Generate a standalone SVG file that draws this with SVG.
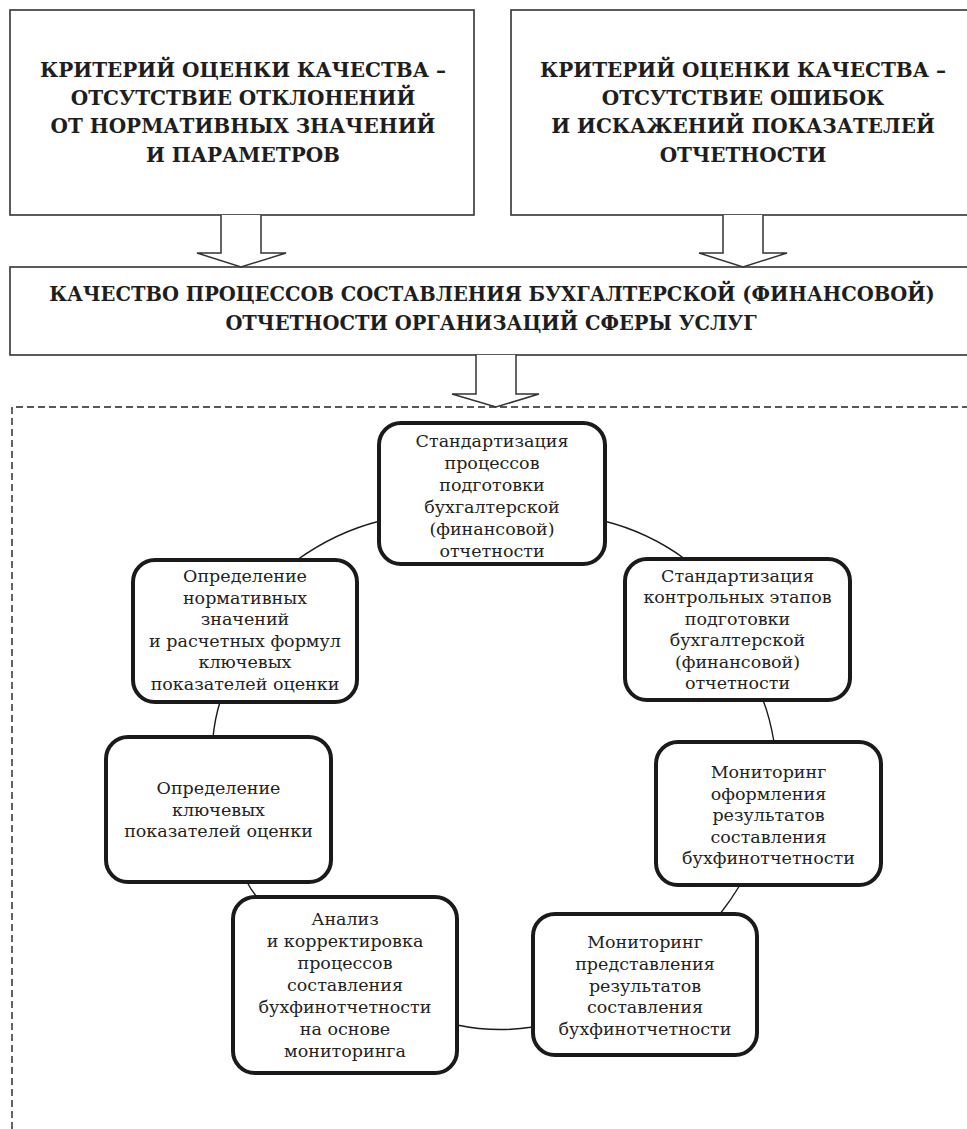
<svg xmlns="http://www.w3.org/2000/svg" width="967" height="1129" viewBox="0 0 967 1129">
<style>
.box{fill:#fff;stroke:#333;stroke-width:1.6}
.arrow{fill:#fff;stroke:#333;stroke-width:1.5;stroke-linejoin:miter}
.hdr{font-family:"DejaVu Serif","Liberation Serif",serif;font-weight:bold;font-size:20px;fill:#1e1e1e;text-anchor:middle}
.hdr2{font-size:19.5px}
.node rect{fill:#fff;stroke:#1a1a1a;stroke-width:4}
.node text{font-family:"DejaVu Serif","Liberation Serif",serif;font-size:17.5px;fill:#222;text-anchor:middle}
.conn{fill:none;stroke:#1a1a1a;stroke-width:1.4}
.dash{fill:none;stroke:#222;stroke-width:1.4;stroke-dasharray:7 4}
</style>
<rect width="967" height="1129" fill="#fff"/>

<g id="criterion-left">
<rect class="box" x="10" y="10" width="464" height="205"/>
<text class="hdr" x="243" y="77">КРИТЕРИЙ ОЦЕНКИ КАЧЕСТВА –</text>
<text class="hdr" x="243" y="105">ОТСУТСТВИЕ ОТКЛОНЕНИЙ</text>
<text class="hdr" x="243" y="133">ОТ НОРМАТИВНЫХ ЗНАЧЕНИЙ</text>
<text class="hdr" x="243" y="162">И ПАРАМЕТРОВ</text>
</g>

<g id="criterion-right">
<rect class="box" x="511" y="10" width="470" height="205"/>
<text class="hdr" x="743" y="77">КРИТЕРИЙ ОЦЕНКИ КАЧЕСТВА –</text>
<text class="hdr" x="743" y="105">ОТСУТСТВИЕ ОШИБОК</text>
<text class="hdr" x="743" y="133">И ИСКАЖЕНИЙ ПОКАЗАТЕЛЕЙ</text>
<text class="hdr" x="743" y="162">ОТЧЕТНОСТИ</text>
</g>

<g id="quality">
<rect class="box" x="10" y="267" width="970" height="88"/>
<text class="hdr hdr2" x="492" y="301">КАЧЕСТВО ПРОЦЕССОВ СОСТАВЛЕНИЯ БУХГАЛТЕРСКОЙ (ФИНАНСОВОЙ)</text>
<text class="hdr hdr2" x="491" y="330">ОТЧЕТНОСТИ ОРГАНИЗАЦИЙ СФЕРЫ УСЛУГ</text>
</g>

<g id="measures-area">
<path class="dash" d="M12,1129 V407 H967"/>
</g>

<g id="connectors">
<path class="arrow" d="M221,215 V253 H197 L241,267 L286,253 H261 V215"/>
<path class="arrow" d="M723,215 V253 H699 L743,267 L787,253 H763 V215"/>
<path class="arrow" d="M476,355 V394 H452 L496,407 L539,394 H516 V355"/>
<path class="conn" d="M380,521 Q336,532 297,560"/>
<path class="conn" d="M604,521 Q648,532 685,559"/>
<path class="conn" d="M220,702 Q215,718 213,737"/>
<path class="conn" d="M763,700 Q770,718 774,742"/>
<path class="conn" d="M247,882 Q251,890 257,897"/>
<path class="conn" d="M740,885 Q731,900 720,914"/>
<path class="conn" d="M457,1025 Q495,1033 533,1027"/>
</g>

<g id="node-standard-processes" class="node">
<rect x="379" y="423" width="226" height="141" rx="22"/>
<text x="492" y="447">Стандартизация</text>
<text x="492" y="469">процессов</text>
<text x="492" y="491">подготовки</text>
<text x="492" y="513">бухгалтерской</text>
<text x="492" y="535">(финансовой)</text>
<text x="492" y="557">отчетности</text>
</g>

<g id="node-normative-values" class="node">
<rect x="133" y="560" width="224" height="142" rx="22"/>
<text x="245" y="582">Определение</text>
<text x="245" y="603.6">нормативных</text>
<text x="245" y="625.2">значений</text>
<text x="245" y="646.8">и расчетных формул</text>
<text x="245" y="668.4">ключевых</text>
<text x="245" y="690">показателей оценки</text>
</g>

<g id="node-standard-control" class="node">
<rect x="625" y="559" width="225" height="141" rx="22"/>
<text x="737.5" y="582">Стандартизация</text>
<text x="737.5" y="603.4">контрольных этапов</text>
<text x="737.5" y="624.8">подготовки</text>
<text x="737.5" y="646.2">бухгалтерской</text>
<text x="737.5" y="667.6">(финансовой)</text>
<text x="737.5" y="689">отчетности</text>
</g>

<g id="node-key-indicators" class="node">
<rect x="106" y="737" width="225" height="145" rx="22"/>
<text x="218.5" y="794">Определение</text>
<text x="218.5" y="815.5">ключевых</text>
<text x="218.5" y="837">показателей оценки</text>
</g>

<g id="node-monitoring-design" class="node">
<rect x="656" y="742" width="225" height="143" rx="22"/>
<text x="768.5" y="778">Мониторинг</text>
<text x="768.5" y="799.5">оформления</text>
<text x="768.5" y="821">результатов</text>
<text x="768.5" y="842.5">составления</text>
<text x="768.5" y="864">бухфинотчетности</text>
</g>

<g id="node-analysis" class="node">
<rect x="233" y="897" width="224" height="176" rx="22"/>
<text x="345" y="925">Анализ</text>
<text x="345" y="947">и корректировка</text>
<text x="345" y="969">процессов</text>
<text x="345" y="991">составления</text>
<text x="345" y="1013">бухфинотчетности</text>
<text x="345" y="1035">на основе</text>
<text x="345" y="1057">мониторинга</text>
</g>

<g id="node-monitoring-presentation" class="node">
<rect x="533" y="914" width="224" height="141" rx="22"/>
<text x="645" y="948">Мониторинг</text>
<text x="645" y="969.75">представления</text>
<text x="645" y="991.5">результатов</text>
<text x="645" y="1013.25">составления</text>
<text x="645" y="1035">бухфинотчетности</text>
</g>
</svg>
